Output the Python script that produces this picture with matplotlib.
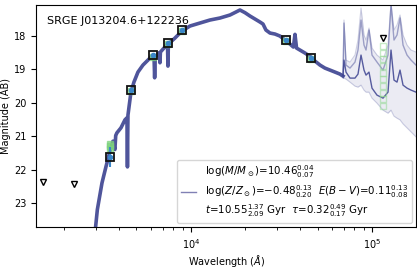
import matplotlib
matplotlib.use('Agg')
import numpy as np
import matplotlib.pyplot as plt

# observed photometry (AB mag)
phot_wave = [3551, 4686, 6166, 7480, 8932, 33526, 46028]
phot_mag = [21.62, 19.62, 18.57, 18.20, 17.82, 18.12, 18.67]
phot_err = [0.30, 0.03, 0.02, 0.02, 0.03, 0.03, 0.04]

# upper limits (GALEX FUV, NUV, WISE W3)
lim_wave = [1528, 2271, 115608]
lim_mag = [22.37, 22.43, 18.06]

# model photometry samples
model_wave = [3551, 3551, 3551, 4686, 6166, 7480, 8932, 33526, 46028]
model_mag = [21.22, 21.30, 21.38, 19.66, 18.62, 18.24, 17.86, 18.14, 18.68]
w3_model_mag = [18.30, 18.50, 18.70, 18.90, 19.10, 19.30, 19.50, 19.70, 19.90, 20.10]

# best-fit spectrum, UV to mid-IR
spec_wave = [2850, 2950, 3040, 3225, 3390, 3568, 3707, 3800, 3840, 3899, 4105,
             4319, 4430, 4458, 4487, 4661, 4842, 5095, 5429, 5787, 6166, 6250,
             6300, 6350, 6700, 6741, 6780, 7366, 7420, 7463, 7500, 8159, 8919,
             9874, 11213, 12735, 14460, 16425, 17730, 18650, 19880, 21180,
             22570, 24050, 25000, 25950, 27320, 29110, 31020, 33050, 35230,
             36800, 37550, 38300, 39990, 42660, 46030, 48420, 51610, 54950,
             58610, 62470, 66530, 69160]
spec_mag = [24.30, 23.90, 23.20, 22.40, 21.92, 21.45, 21.15, 21.40, 20.98, 20.90,
            20.75, 20.51, 20.45, 21.92, 20.37, 19.68, 19.38, 19.08, 18.87, 18.72,
            18.57, 18.60, 19.25, 18.62, 18.50, 18.80, 18.48, 18.26, 18.25, 18.90,
            18.24, 18.06, 17.85, 17.70, 17.61, 17.52, 17.46, 17.37, 17.28, 17.22,
            17.30, 17.40, 17.49, 17.58, 17.64, 17.82, 17.91, 17.94, 18.00, 18.12,
            18.24, 18.33, 17.95, 18.36, 18.42, 18.51, 18.63, 18.75, 18.87, 18.96,
            19.02, 19.08, 19.14, 19.20]

# mid-IR (PAH region) model spread
ir_wave = [69160, 70030, 71850, 75600, 80540, 83690, 86960, 90330, 92680, 96250,
           100000, 106560, 115040, 122590, 127360, 132300, 137460, 142800,
           148370, 156110, 164270, 175000]
ir_low = [19.26, 19.26, 19.29, 19.38, 19.50, 19.53, 19.47, 19.62, 19.68, 19.68,
          19.86, 20.01, 20.22, 20.31, 20.22, 20.40, 20.46, 20.51, 20.63, 20.75,
          20.87, 21.02]
ir_mid = [19.20, 18.72, 19.08, 19.26, 19.26, 19.14, 18.57, 19.02, 19.17, 19.08,
          19.56, 19.77, 19.86, 19.68, 18.42, 19.32, 19.38, 19.02, 19.47, 19.56,
          19.62, 19.68]
ir_high = [19.17, 17.61, 18.87, 18.96, 18.78, 18.42, 17.52, 18.27, 18.42, 17.82,
           18.57, 18.78, 19.02, 18.57, 17.07, 18.12, 17.97, 17.46, 18.27, 18.57,
           18.72, 18.87]
ir_top = [19.14, 17.52, 18.72, 18.78, 18.57, 18.12, 17.16, 17.97, 18.12, 17.76,
          18.36, 18.57, 18.72, 18.27, 17.01, 17.82, 17.67, 17.37, 17.97, 18.27,
          18.42, 18.48]

label = (r"log$(M/M_\odot)$=$10.46^{0.04}_{0.07}$" + "\n" +
         r"log$(Z/Z_\odot)$=$-0.48^{0.13}_{0.20}$  $E(B-V)$=$0.11^{0.13}_{0.08}$" + "\n" +
         r"$t$=$10.55^{1.37}_{2.09}$ Gyr  $\tau$=$0.32^{0.49}_{0.17}$ Gyr")

navy = '#3c4290'

fig = plt.figure(figsize=(4.17, 2.73), dpi=100)
ax = fig.add_axes([0.0863, 0.1685, 0.9113, 0.8132])

ax.fill_between(ir_wave, ir_low, ir_top, color=navy, alpha=0.10, lw=0)
ax.plot(ir_wave, ir_low, color=navy, lw=0.8, alpha=0.25)
ax.plot(ir_wave, ir_top, color=navy, lw=0.8, alpha=0.25)
ax.plot(ir_wave, ir_high, color=navy, lw=1.0, alpha=0.45)
ax.plot(ir_wave, ir_mid, color=navy, lw=1.0, alpha=0.85)
ax.plot(spec_wave, spec_mag, color=navy, lw=2.6, alpha=0.9,
        solid_joinstyle='round')

ax.plot(model_wave, model_mag, 's', ms=4, mfc='#7ed37e', mec='#7ed37e', alpha=0.7)
ax.plot([115608] * len(w3_model_mag), w3_model_mag, 's', ms=4, mfc='none',
        mec='#8fd88f', alpha=0.5)
ax.errorbar(phot_wave, phot_mag, yerr=phot_err, fmt='o', ms=3, color='#3a86c8',
            ecolor='#3a86c8', elinewidth=1.5, zorder=4)
ax.plot(phot_wave, phot_mag, 's', ms=6, mfc='none', mec='#111111', mew=1.3, zorder=5)
ax.plot(lim_wave, lim_mag, 'v', ms=5, mfc='white', mec='black', mew=1.0, zorder=5)

ax.plot([], [], color='#8080b4', lw=1, label=label)

ax.set_xscale('log')
ax.set_xlim(1393, 175000)
ax.set_ylim(23.72, 17.07)
ax.set_xlabel(r'Wavelength ($\AA$)', fontsize=7, labelpad=2)
ax.set_ylabel('Magnitude (AB)', fontsize=7)
ax.yaxis.set_label_coords(-0.066, 0.5)
ax.tick_params(labelsize=7)
ax.text(0.03, 0.95, 'SRGE J013204.6+122236', transform=ax.transAxes,
        fontsize=8, va='top')
ax.legend(loc='lower right', fontsize=7.4, handlelength=1.5, borderaxespad=0.4)

plt.savefig('out.png', dpi=100)
